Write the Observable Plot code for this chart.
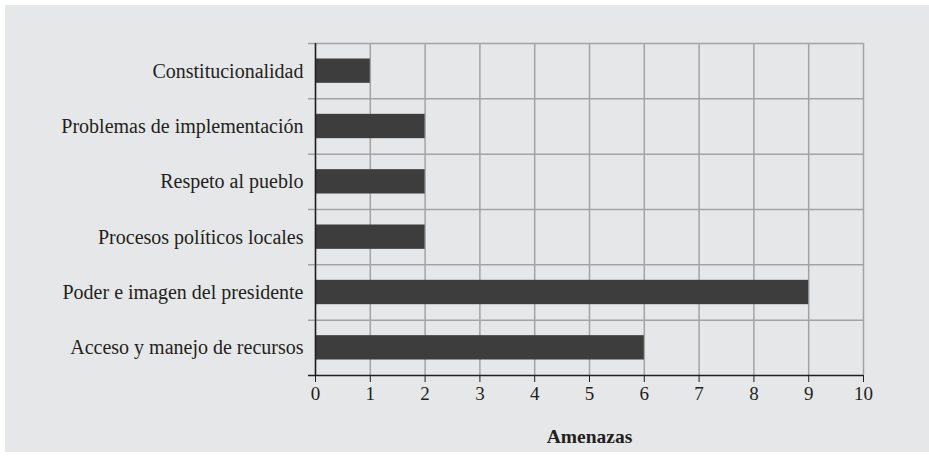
<!DOCTYPE html>
<html>
<head>
<meta charset="utf-8">
<script src="https://cdn.jsdelivr.net/npm/d3@7"></script>
<script src="https://cdn.jsdelivr.net/npm/@observablehq/plot@0.6"></script>
<style>
  html, body { margin: 0; padding: 0; background: #ffffff; }
  #wrap { position: relative; width: 929px; height: 458px; overflow: hidden; }
  #panel { position: absolute; left: 5px; top: 5px; width: 924px; height: 447px; background: #e6e7e8; }
  #chart { position: absolute; left: 0; top: 0; }
  #chart svg, #chart svg text { font-family: "Liberation Serif", serif !important; }
</style>
</head>
<body>
<div id="wrap"><div id="panel"></div><div id="chart"></div></div>
<script>
const categories = [
  "Constitucionalidad",
  "Problemas de implementación",
  "Respeto al pueblo",
  "Procesos políticos locales",
  "Poder e imagen del presidente",
  "Acceso y manejo de recursos"
];
const values = [1, 2, 2, 2, 9, 6];
const xTicks = [0, 1, 2, 3, 4, 5, 6, 7, 8, 9, 10];
const xLabel = "Amenazas";

const data = categories.map((c, i) => ({category: c, value: values[i], pos: i}));
const boundaries = d3.range(categories.length + 1);
const barPad = 0.28;
const FONT = "Liberation Serif";

const chart = Plot.plot({
  width: 929,
  height: 458,
  marginLeft: 315,
  marginRight: 66,
  marginTop: 43,
  marginBottom: 83,
  style: {background: "transparent", fontFamily: FONT, fontSize: "20px", color: "#231f20"},
  x: {domain: [0, 10], ticks: xTicks},
  y: {domain: [categories.length, 0], range: [375, 43]},
  marks: [
    Plot.ruleX(xTicks, {stroke: "#a3a3a3", strokeWidth: 1.5}),
    Plot.ruleY(boundaries.slice(0, -1), {stroke: "#a3a3a3", strokeWidth: 1.5, insetLeft: -7}),
    Plot.rectX(data, {x1: 0, x2: "value", y1: d => d.pos + barPad, y2: d => d.pos + 1 - barPad, fill: "#3d3d3d"}),
    Plot.ruleX([0], {stroke: "#231f20", strokeWidth: 1.5}),
    Plot.ruleY([categories.length], {stroke: "#231f20", strokeWidth: 1.5, insetLeft: -7}),
    Plot.axisX({ticks: xTicks, tickSize: 7, tickPadding: 4, stroke: "#231f20", fontSize: 19, fontFamily: FONT, label: null, tickFormat: d => String(d)}),
    Plot.axisY({ticks: categories.map((c, i) => i + 0.5), tickSize: 0, tickPadding: 12, fontSize: 20, fontFamily: FONT, label: null, tickFormat: d => categories[Math.floor(d)]}),
    Plot.text([xLabel], {frameAnchor: "bottom", dy: 61, lineAnchor: "middle", fontWeight: "bold", fontSize: 19.5, fontFamily: FONT, fill: "#231f20"})
  ]
});
document.getElementById("chart").appendChild(chart);
</script>
</body>
</html>
